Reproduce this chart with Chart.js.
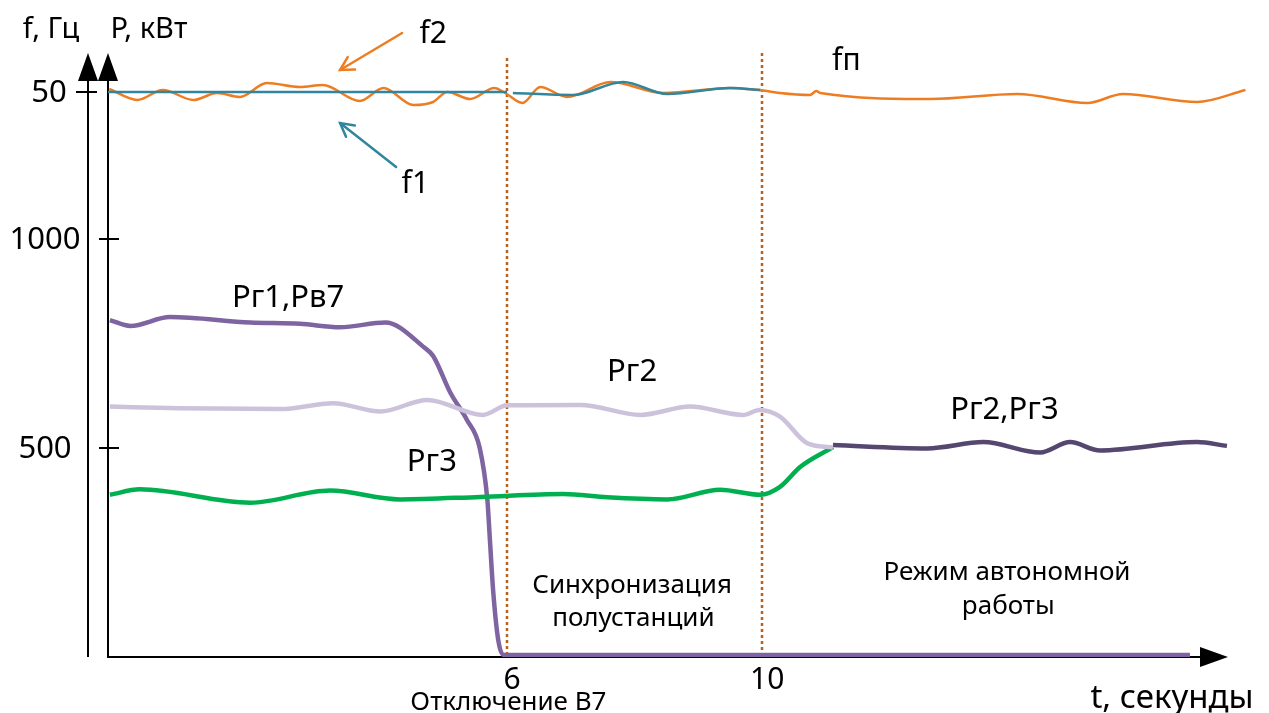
<!DOCTYPE html>
<html><head><meta charset="utf-8">
<script src="https://cdn.jsdelivr.net/npm/chart.js@4"></script>
<style>html,body{margin:0;padding:0;background:#fff;}canvas{display:block;}</style>
</head><body>
<canvas id="c" width="1269" height="713"></canvas>
<script>
// ---- data (t in seconds, f in Hz, P in kW) ----
const f1T = [-0.26, 6.0, 6.01, 6.09, 7.03, 7.82, 8.51, 9.5, 9.97];
const f1V = [50.0, 50.0, null, 49.99, 49.97, 50.10, 49.98, 50.04, 50.02];

const f2T = [-0.24, 0.20, 0.60, 1.08, 1.45, 1.81, 2.23, 2.75, 3.11, 3.69, 4.06, 4.53, 4.84, 5.06, 5.42, 5.80, 5.97, 6.24, 6.52, 6.94, 7.62, 8.45, 9.50, 9.97];
const f2V = [50.03, 49.92, 50.02, 49.92, 49.99, 49.95, 50.09, 50.05, 50.07, 49.91, 50.04, 49.87, 49.90, 50.00, 49.93, 50.04, 49.99, 49.89, 50.05, 49.95, 50.10, 49.99, 50.04, 50.02];

const fpT = [9.97, 10.28, 10.75, 10.85, 10.91, 12.64, 14.0, 15.1, 15.66, 16.82, 17.58];
const fpV = [50.02, 49.99, 49.97, 50.01, 49.99, 49.93, 49.98, 49.89, 49.98, 49.90, 50.02];

const pg1T = [-0.23, 0.09, 0.71, 1.97, 2.75, 3.38, 4.09, 4.71, 4.84, 5.11, 5.37, 5.57, 5.69, 5.73, 5.78, 5.86, 5.94, 16.71];
const pg1P = [806, 792, 813, 800, 797, 789, 800, 739, 720, 632, 567, 500, 376, 280, 160, 41, 5, 5];

const pg2T = [-0.23, 0.87, 2.44, 3.27, 4.01, 4.75, 5.62, 6.0, 7.15, 8.09, 8.87, 9.7, 9.96, 10.28, 10.7, 11.11];
const pg2P = [599, 595, 593, 607, 587, 615, 579, 602, 603, 579, 599, 579, 591, 575, 512, 501];

const pg3T = [-0.23, 0.24, 1.97, 3.22, 4.32, 5.58, 6.88, 7.57, 8.51, 9.34, 9.97, 10.28, 10.6, 11.11];
const pg3P = [388, 401, 369, 398, 377, 383, 390, 382, 377, 400, 388, 407, 455, 502];

const pg23T = [11.11, 12.59, 13.47, 14.36, 14.83, 15.3, 16.82, 17.29];
const pg23P = [507, 499, 514, 489, 514, 494, 514, 505];

const pTicks = [500, 1000];
const fTicks = [50];
const tTicks = [6, 10];
const tEvents = [6, 10];

// ---- build ----
function pts(T, V){ return T.map((t,i)=>({x:t, y:V[i]})); }
const FONT = '"Noto Sans", "DejaVu Sans", sans-serif';

function ds(T, V, color, width, axis){
  return {data: pts(T,V), borderColor: color, borderWidth: width, pointRadius: 0,
    fill:false, spanGaps:false, cubicInterpolationMode:'monotone', yAxisID: axis};
}

const datasets = [
  ds(pg2T, pg2P, '#CDC2DC', 4.5, 'y'),
  ds(pg3T, pg3P, '#00B050', 4.5, 'y'),
  ds(pg1T, pg1P, '#7F64A2', 4.5, 'y'),
  ds(pg23T, pg23P, '#55476F', 4.5, 'y'),
  ds(f1T, f1V, '#31859C', 2.5, 'yf'),
  ds(f2T, f2V, '#EE7D22', 2.5, 'yf'),
  ds(fpT, fpV, '#EE7D22', 2.5, 'yf'),
];

function arrowLine(ctx, x1, y1, x2, y2, color){
  ctx.save();
  ctx.strokeStyle = color; ctx.lineWidth = 2.5; ctx.lineCap='round';
  ctx.beginPath(); ctx.moveTo(x1,y1); ctx.lineTo(x2,y2); ctx.stroke();
  const a = Math.atan2(y2-y1, x2-x1), L = 15, w = 0.5;
  ctx.beginPath();
  ctx.moveTo(x2 - L*Math.cos(a-w), y2 - L*Math.sin(a-w));
  ctx.lineTo(x2, y2);
  ctx.lineTo(x2 - L*Math.cos(a+w), y2 - L*Math.sin(a+w));
  ctx.stroke();
  ctx.restore();
}
function tri(ctx, x, y, dir){
  ctx.beginPath();
  if (dir==='up'){ ctx.moveTo(x, y); ctx.lineTo(x-10, y+28); ctx.lineTo(x+10, y+28); }
  else { ctx.moveTo(x, y); ctx.lineTo(x-28, y-10); ctx.lineTo(x-28, y+10); }
  ctx.closePath(); ctx.fill();
}
function text(ctx, s, x, y, size, align){
  ctx.font = size + 'px ' + FONT;
  ctx.textAlign = align || 'center';
  ctx.textBaseline = 'middle';
  ctx.fillText(s, x, y);
}

const decor = {
  id: 'decor',
  beforeDatasetsDraw(chart){
    const {ctx, chartArea: ca, scales} = chart;
    const X = scales.x, Y = scales.y, F = scales.yf;
    ctx.save();
    // event lines
    ctx.strokeStyle = '#B8621E'; ctx.lineWidth = 2.5; ctx.setLineDash([3,3]);
    tEvents.forEach((t,i)=>{
      const x = Math.round(X.getPixelForValue(t));
      ctx.beginPath(); ctx.moveTo(x, ca.top + (i===0?3:-2)); ctx.lineTo(x, ca.bottom); ctx.stroke();
    });
    ctx.setLineDash([]);
    // axes
    ctx.strokeStyle = '#000'; ctx.fillStyle = '#000'; ctx.lineWidth = 2;
    const L = Math.round(ca.left), B = Math.round(ca.bottom);
    const fx = L - 20;
    ctx.beginPath();
    ctx.moveTo(L, B); ctx.lineTo(L, ca.top + 10);
    ctx.moveTo(fx, B); ctx.lineTo(fx, ca.top + 10);
    ctx.moveTo(L - 1, B); ctx.lineTo(ca.right - 30, B);
    ctx.stroke();
    tri(ctx, L, ca.top - 2, 'up');
    tri(ctx, fx, ca.top - 2, 'up');
    tri(ctx, ca.right - 20, B, 'right');
    // ticks
    ctx.beginPath();
    pTicks.forEach(v=>{ const y = Math.round(Y.getPixelForValue(v)); ctx.moveTo(L-9, y); ctx.lineTo(L+11, y); });
    fTicks.forEach(v=>{ const y = Math.round(F.getPixelForValue(v)); ctx.moveTo(fx-12, y); ctx.lineTo(fx+9, y); });
    ctx.stroke();
    ctx.restore();
  },
  afterDraw(chart){
    const {ctx, chartArea: ca, scales} = chart;
    const X = scales.x, Y = scales.y, F = scales.yf;
    ctx.save();
    ctx.fillStyle = '#000';
    // tick labels
    pTicks.forEach(v=> text(ctx, String(v), ca.left - 63, Y.getPixelForValue(v) + 1, 31));
    fTicks.forEach(v=> text(ctx, String(v), ca.left - 59, F.getPixelForValue(v) + 1, 31));
    tTicks.forEach(v=> text(ctx, String(v), X.getPixelForValue(v) + 5, ca.bottom + 23, 30));
    // axis titles
    text(ctx, 'f, Гц', ca.left - 57, 30, 29);
    text(ctx, 'P, кВт', ca.left + 41, 30, 29);
    text(ctx, 't, секунды', ca.right - 76, ca.bottom + 42, 33);
    text(ctx, 'Отключение B7', X.getPixelForValue(6.02), ca.bottom + 46, 26);
    // series labels
    text(ctx, 'Pг1,Pв7', X.getPixelForValue(2.565), Y.getPixelForValue(859), 31);
    text(ctx, 'Pг2', X.getPixelForValue(7.96), Y.getPixelForValue(682), 31);
    text(ctx, 'Pг3', X.getPixelForValue(4.82), Y.getPixelForValue(466), 31);
    text(ctx, 'Pг2,Pг3', X.getPixelForValue(13.8), Y.getPixelForValue(591), 31);
    text(ctx, 'f2', X.getPixelForValue(4.84), F.getPixelForValue(50.58), 30);
    text(ctx, 'f1', X.getPixelForValue(4.56), F.getPixelForValue(49.08), 30);
    text(ctx, 'fп', X.getPixelForValue(11.32), F.getPixelForValue(50.31), 30);
    // region captions
    text(ctx, 'Синхронизация', X.getPixelForValue(7.96), Y.getPixelForValue(172), 26);
    text(ctx, 'полустанций', X.getPixelForValue(7.98), Y.getPixelForValue(93), 26);
    text(ctx, 'Режим автономной', X.getPixelForValue(13.84), Y.getPixelForValue(201), 26);
    text(ctx, 'работы', X.getPixelForValue(13.86), Y.getPixelForValue(120), 26);
    // pointer arrows
    arrowLine(ctx, X.getPixelForValue(4.353), F.getPixelForValue(50.59), X.getPixelForValue(3.38), F.getPixelForValue(50.22), '#EE7D22');
    arrowLine(ctx, X.getPixelForValue(4.259), F.getPixelForValue(49.25), X.getPixelForValue(3.38), F.getPixelForValue(49.69), '#31859C');
    ctx.restore();
  }
};

new Chart(document.getElementById('c'), {
  type: 'line',
  data: { datasets },
  options: {
    responsive: false, animation: false,
    layout: { padding: { left: 108, right: 21, top: 55, bottom: 56 } },
    plugins: { legend: { display: false }, tooltip: { enabled: false } },
    scales: {
      x: { type: 'linear', min: -0.26, max: 17.62, display: false },
      y: { type: 'linear', min: 0, max: 1440, display: false },
      yf: { type: 'linear', min: 44.35, max: 50.37, display: false }
    }
  },
  plugins: [decor]
});
</script>
</body></html>
